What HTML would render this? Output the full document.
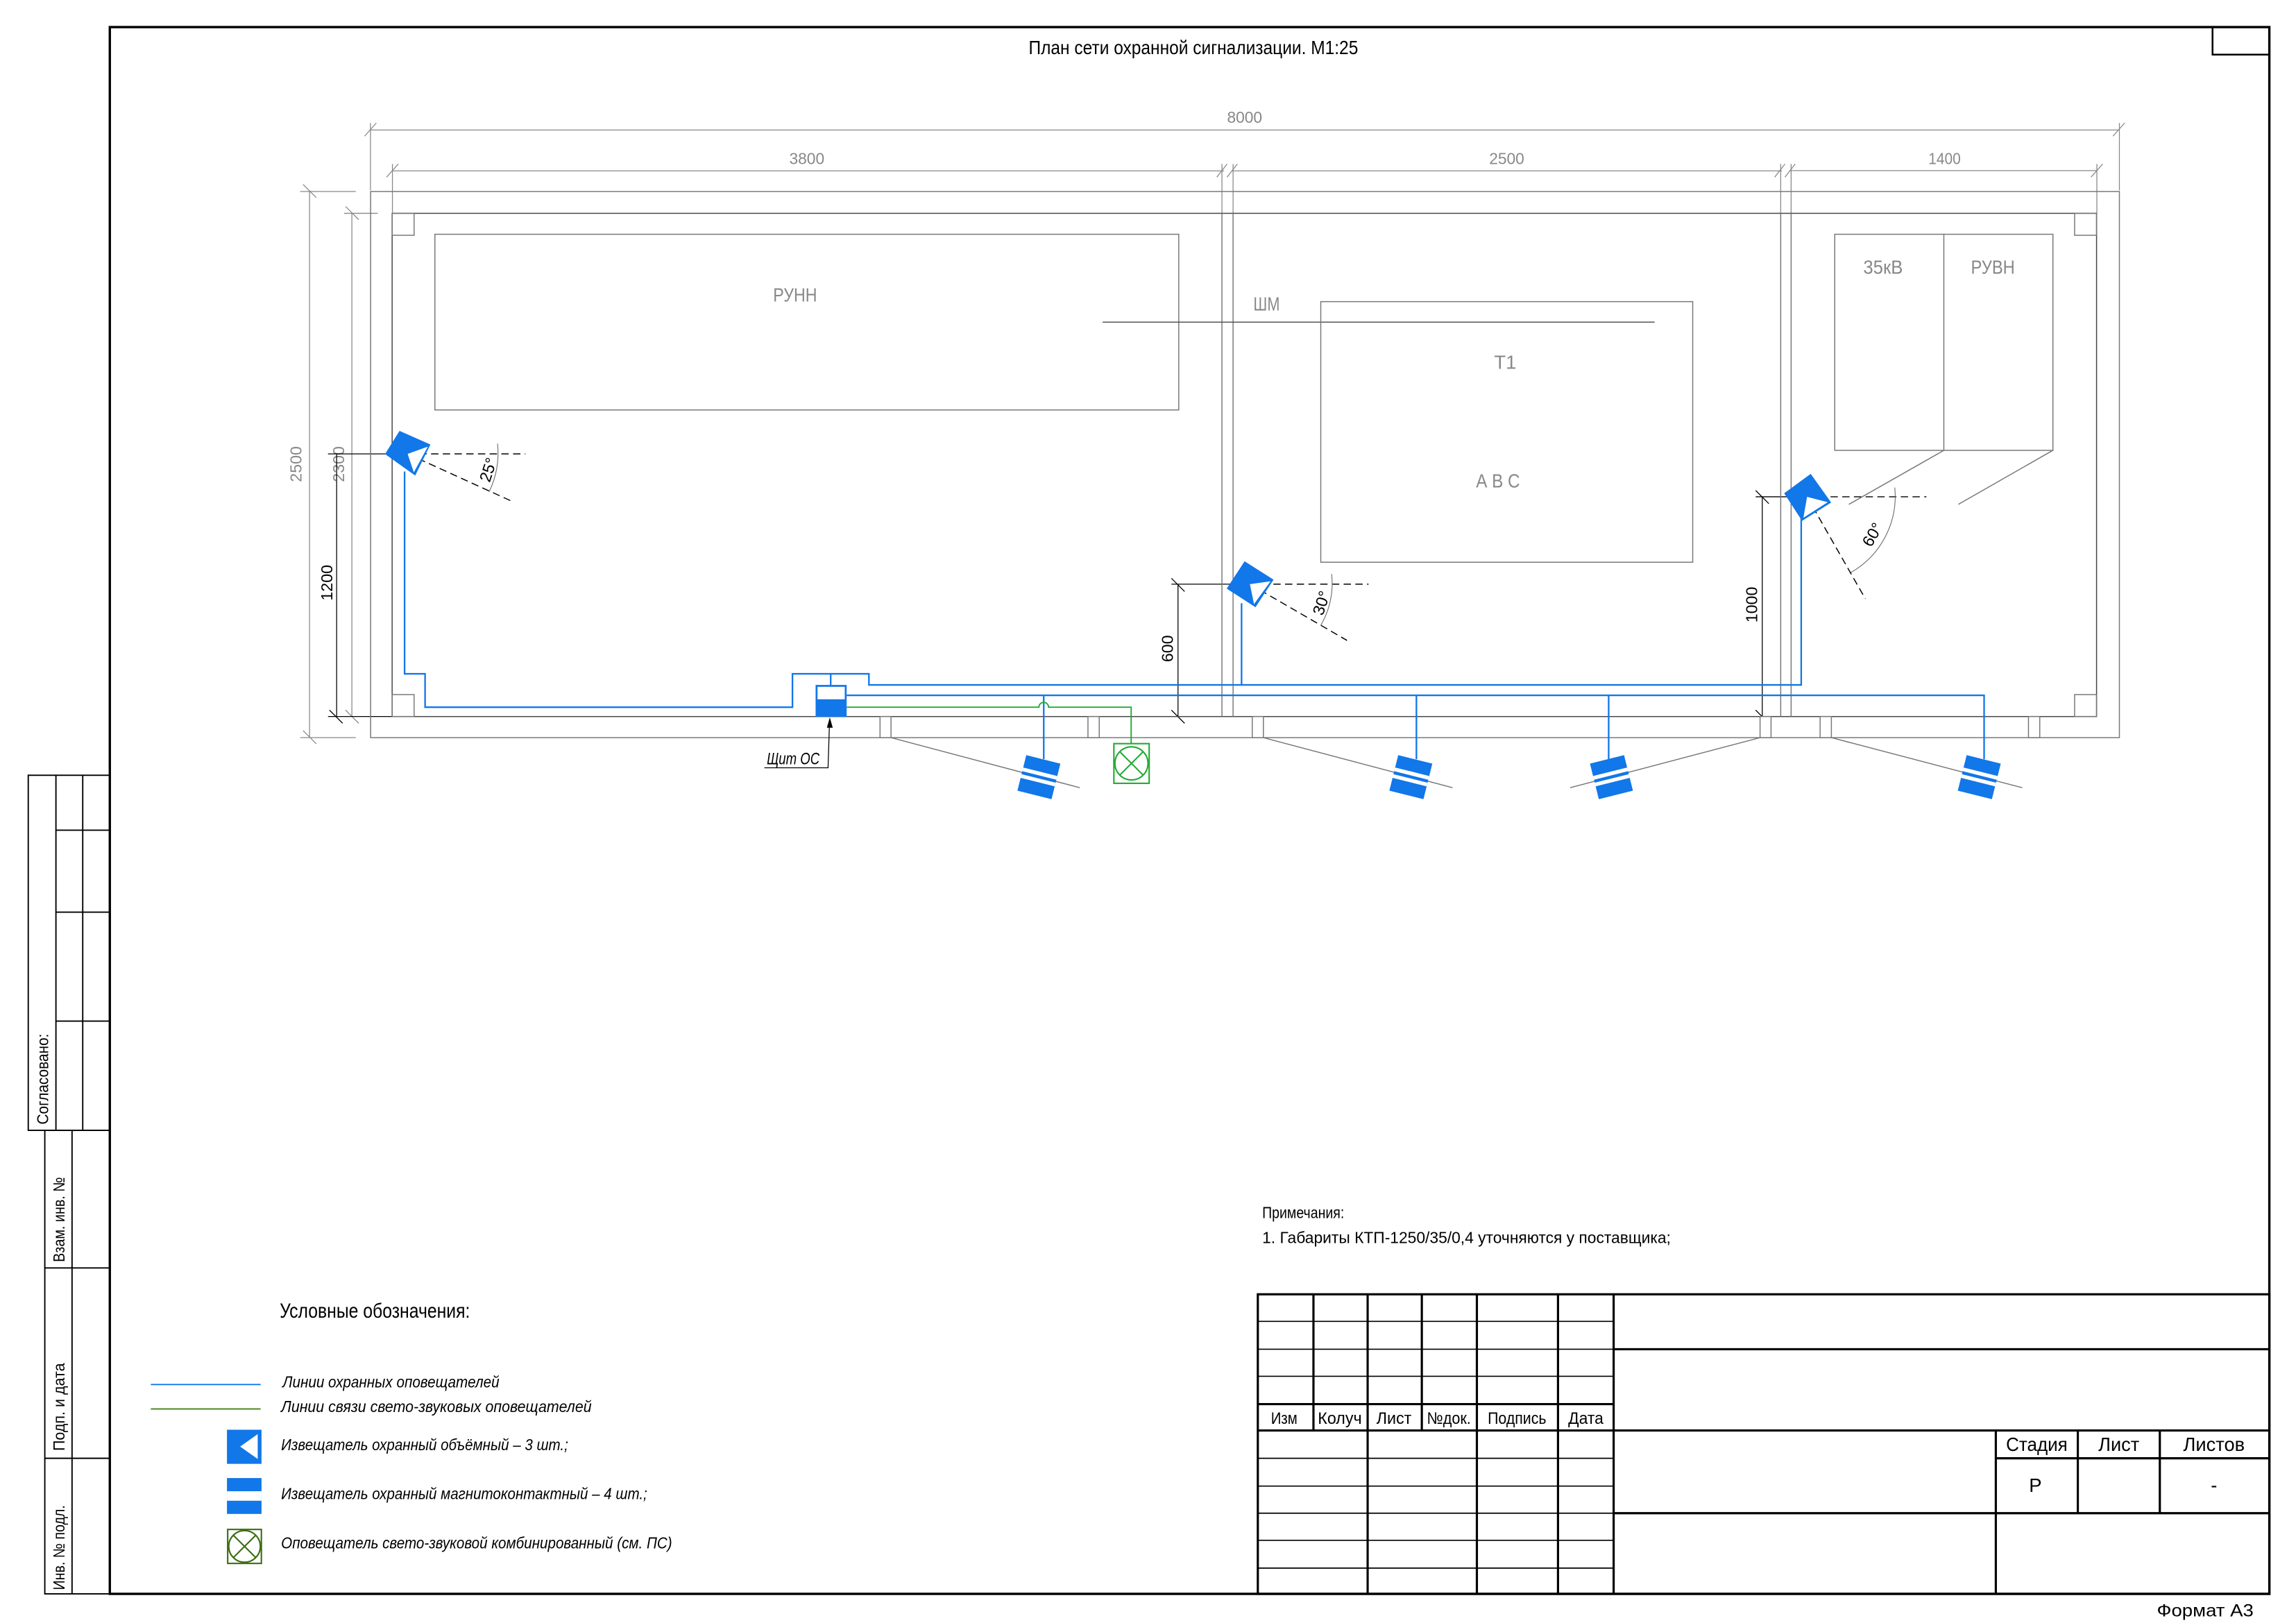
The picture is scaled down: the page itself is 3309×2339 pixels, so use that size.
<!DOCTYPE html>
<html><head><meta charset="utf-8"><style>
html,body{margin:0;padding:0;background:#fff}
svg{display:block}
text{font-family:"Liberation Sans Narrow","Liberation Sans",sans-serif}
.g{fill:#888}
.it{font-style:italic}
</style></head><body>
<svg width="3309" height="2339" viewBox="0 0 1568 1108.5" preserveAspectRatio="none" xmlns="http://www.w3.org/2000/svg">
<rect width="1568" height="1108.5" fill="#fff"/>
<rect x="75" y="18.5" width="1474.8" height="1070.1" fill="none" stroke="#000" stroke-width="1.6"/>
<rect x="1511" y="18.5" width="38.8" height="18.8" fill="none" stroke="#000" stroke-width="1.2"/>
<text x="815" y="37" font-size="13" text-anchor="middle" textLength="225" lengthAdjust="spacingAndGlyphs">План сети охранной сигнализации. М1:25</text>

<g fill="none" stroke="#000" stroke-width="0.9">
<rect x="19.3" y="529.5" width="55.7" height="242.5"/>
<line x1="38.2" y1="529.5" x2="38.2" y2="772"/>
<line x1="56.5" y1="529.5" x2="56.5" y2="772"/>
<line x1="38.2" y1="567" x2="75" y2="567"/>
<line x1="38.2" y1="623" x2="75" y2="623"/>
<line x1="38.2" y1="697.4" x2="75" y2="697.4"/>
<rect x="30.6" y="772" width="44.4" height="316.6"/>
<line x1="49.2" y1="772" x2="49.2" y2="1088.6"/>
<line x1="30.6" y1="866" x2="75" y2="866"/>
<line x1="30.6" y1="996" x2="75" y2="996"/>
</g>
<g font-size="11">
<text transform="translate(33,737) rotate(-90)" text-anchor="middle" textLength="62" lengthAdjust="spacingAndGlyphs">Согласовано:</text>
<text transform="translate(44,833) rotate(-90)" text-anchor="middle" textLength="58" lengthAdjust="spacingAndGlyphs">Взам. инв. №</text>
<text transform="translate(44,961) rotate(-90)" text-anchor="middle" textLength="60" lengthAdjust="spacingAndGlyphs">Подп. и дата</text>
<text transform="translate(44,1057) rotate(-90)" text-anchor="middle" textLength="58" lengthAdjust="spacingAndGlyphs">Инв. № подл.</text>
</g>

<g stroke="#888" stroke-width="0.6" fill="none">
<line x1="253" y1="88.8" x2="1447.4" y2="88.8"/>
<line x1="253" y1="84" x2="253" y2="130"/>
<line x1="1447.4" y1="84" x2="1447.4" y2="130"/>
<line x1="268" y1="116.7" x2="836" y2="116.7"/>
<line x1="841" y1="116.7" x2="1217" y2="116.7"/>
<line x1="1222" y1="116.5" x2="1432" y2="116.5"/>
<line x1="268" y1="112" x2="268" y2="146"/>
<line x1="834.5" y1="112" x2="834.5" y2="146"/>
<line x1="842.1" y1="112" x2="842.1" y2="146"/>
<line x1="1216.1" y1="112" x2="1216.1" y2="146"/>
<line x1="1223.2" y1="112" x2="1223.2" y2="146"/>
<line x1="1432" y1="112" x2="1432" y2="146"/>
<path d="M249 93l8-9M1443 93l8-9M264 121l8-9M831 121l7-9M838 121l7-9M1212 121l7-9M1219 121l7-9M1428 121l8-9"/>
<line x1="211.4" y1="130" x2="211.4" y2="503.8"/>
<line x1="240.3" y1="145.7" x2="240.3" y2="489.4"/>
<line x1="205" y1="130.8" x2="243" y2="130.8"/>
<line x1="205" y1="503.8" x2="243" y2="503.8"/>
<line x1="235" y1="145.7" x2="258" y2="145.7"/>
<path d="M207 126l9 9M207 499l9 9M236 141l9 9M236 485l9 9"/>
</g>
<g class="g" font-size="11" text-anchor="middle">
<text x="850" y="84" textLength="24" lengthAdjust="spacingAndGlyphs">8000</text>
<text x="551" y="112" textLength="24" lengthAdjust="spacingAndGlyphs">3800</text>
<text x="1029" y="112" textLength="24" lengthAdjust="spacingAndGlyphs">2500</text>
<text x="1328" y="112" textLength="22" lengthAdjust="spacingAndGlyphs">1400</text>
<text transform="translate(206,317) rotate(-90)">2500</text>
<text transform="translate(235,317) rotate(-90)">2300</text>
</g>
<g stroke="#000" stroke-width="0.6" fill="none">
<line x1="229.9" y1="310" x2="229.9" y2="489.4"/>
<line x1="224" y1="310" x2="278" y2="310"/>
<line x1="224" y1="489.4" x2="268" y2="489.4"/>
<path d="M225 485l9 9"/>
<line x1="804.5" y1="399" x2="804.5" y2="489.4"/>
<line x1="800" y1="399" x2="853" y2="399"/>
<path d="M800 395l9 9M800 485l9 9"/>
<line x1="1203.5" y1="339.3" x2="1203.5" y2="489.4"/>
<line x1="1199" y1="339.3" x2="1234" y2="339.3"/>
<path d="M1199 335l9 9M1199 485l9 9"/>
</g>
<g font-size="11" text-anchor="middle">
<text transform="translate(227,398) rotate(-90)">1200</text>
<text transform="translate(801,443) rotate(-90)">600</text>
<text transform="translate(1200,413) rotate(-90)">1000</text>
</g>

<g stroke="#777" stroke-width="0.7" fill="none">
<rect x="253.1" y="130.8" width="1194.3" height="373"/>
<rect x="267.8" y="145.7" width="1164" height="343.7" stroke="#444"/>
<line x1="834.5" y1="145.7" x2="834.5" y2="489.4"/>
<line x1="842.1" y1="145.7" x2="842.1" y2="489.4"/>
<line x1="1216.1" y1="145.7" x2="1216.1" y2="489.4"/>
<line x1="1223.2" y1="145.7" x2="1223.2" y2="489.4"/>
<rect x="267.8" y="145.7" width="15" height="15"/>
<rect x="267.8" y="474.4" width="15" height="15"/>
<rect x="1416.8" y="145.7" width="15" height="15"/>
<rect x="1416.8" y="474.4" width="15" height="15"/>
<rect x="297" y="160" width="508" height="120"/>
<line x1="753" y1="220" x2="1130" y2="220" stroke="#555"/>
<rect x="902" y="206" width="254" height="178"/>
<rect x="1253" y="160" width="149" height="147.6"/>
<line x1="1327.5" y1="160" x2="1327.5" y2="307.6"/>
<line x1="1327.5" y1="307.6" x2="1262.6" y2="344.5"/>
<line x1="1401.9" y1="307.6" x2="1337.4" y2="344.5"/>
<rect x="601" y="489.4" width="7.5" height="14.4" fill="#fff"/>
<rect x="743" y="489.4" width="7.7" height="14.4" fill="#fff"/>
<rect x="855.2" y="489.4" width="7.6" height="14.4" fill="#fff"/>
<rect x="1202" y="489.4" width="7.5" height="14.4" fill="#fff"/>
<rect x="1243" y="489.4" width="7.7" height="14.4" fill="#fff"/>
<rect x="1385.3" y="489.4" width="7.7" height="14.4" fill="#fff"/>
<line x1="608.5" y1="503.8" x2="737.4" y2="538"/>
<line x1="862.8" y1="503.8" x2="992" y2="538"/>
<line x1="1202" y1="503.8" x2="1072.3" y2="538"/>
<line x1="1250.7" y1="503.8" x2="1381" y2="538"/>
</g>
<g class="g" font-size="13" text-anchor="middle">
<text x="543" y="206" textLength="30" lengthAdjust="spacingAndGlyphs">РУНН</text>
<text x="865" y="212" textLength="18" lengthAdjust="spacingAndGlyphs">ШМ</text>
<text x="1028" y="252">Т1</text>
<text x="1023" y="333" textLength="30" lengthAdjust="spacingAndGlyphs">А В С</text>
<text x="1286" y="187" textLength="27" lengthAdjust="spacingAndGlyphs">35кВ</text>
<text x="1361" y="187" textLength="30" lengthAdjust="spacingAndGlyphs">РУВН</text>
</g>

<g stroke="#000" stroke-width="0.7" fill="none" stroke-dasharray="5,3">
<line x1="278.4" y1="310" x2="358.8" y2="310"/>
<line x1="278.4" y1="310" x2="351.2" y2="343.1"/>
<line x1="853.6" y1="399" x2="934.6" y2="399"/>
<line x1="853.6" y1="399" x2="919.9" y2="437.4"/>
<line x1="1234.1" y1="339.3" x2="1315.6" y2="339.3"/>
<line x1="1234.1" y1="339.3" x2="1273.9" y2="409"/>
</g>
<g stroke="#666" stroke-width="0.5" fill="none">
<path d="M339.8 303 A61.4 61.4 0 0 1 334 336"/>
<path d="M909.4 392 A56 56 0 0 1 902 427"/>
<path d="M1294 333 A60 60 0 0 1 1264 391"/>
</g>
<g font-size="11" text-anchor="middle">
<text transform="translate(337,322) rotate(-72)">25°</text>
<text transform="translate(906,413) rotate(-72)">30°</text>
<text transform="translate(1282,367) rotate(-60)">60°</text>
</g>

<g fill="none" stroke="#1277e8" stroke-width="1.1">
<polyline points="276.3,322 276.3,460.2 290.3,460.2 290.3,483 541.2,483 541.2,460.2 593.4,460.2 593.4,467.8 1230.1,467.8 1230.1,352"/>
<line x1="847.9" y1="412" x2="847.9" y2="467.8"/>
<line x1="567.3" y1="460.2" x2="567.3" y2="467.8"/>
<polyline points="578.2,474.9 1355,474.9 1355,518.5"/>
<line x1="712.8" y1="474.9" x2="712.8" y2="518.5"/>
<line x1="967.3" y1="474.9" x2="967.3" y2="518.5"/>
<line x1="1098.6" y1="474.9" x2="1098.6" y2="518.5"/>
</g>
<path d="M578.2 483 H709.5 A3.3 3.3 0 0 1 716.1 483 H772.5 V507.9" fill="none" stroke="#22aa33" stroke-width="0.9"/>
<rect x="557" y="467.8" width="21.2" height="21.8" fill="#1277e8"/>
<rect x="558.3" y="469.1" width="18.6" height="8.5" fill="#fff"/>
<g fill="none" stroke="#22aa33" stroke-width="1">
<rect x="760.7" y="507.9" width="24.1" height="27.1"/>
<circle cx="772.7" cy="521.4" r="11.3"/>
<path d="M764.7 513.4L780.7 529.4M780.7 513.4L764.7 529.4"/>
</g>
<text x="523.7" y="522" font-size="11.5" class="it" textLength="36" lengthAdjust="spacingAndGlyphs">Щит ОС</text>
<g stroke="#000" stroke-width="0.6" fill="none">
<polyline points="522,524.4 565.5,524.4 566.5,493"/>
</g>
<path d="M566.7 490l-2 7h4z" fill="#000"/>

<g fill="#1277e8" stroke="#1277e8" stroke-width="0.8">
<polygon points="273,294.8 293.4,303.8 283.4,324.2 263.5,310"/>
<polygon points="850.1,383.9 869.2,396 857.3,414.2 838.3,401.9"/>
<polygon points="1236.5,324.2 1250,343.1 1230.8,355.2 1219,337"/>
</g>
<g fill="#fff">
<polygon points="278.4,310 292.2,305 282.6,322.6"/>
<polygon points="853.6,399 867.7,397 856.4,412.6"/>
<polygon points="1234.1,339.3 1248.2,343 1231.6,353.6"/>
</g>
<g transform="translate(709.5,530.8) rotate(14)">
<rect x="-12" y="-12.5" width="24" height="25" fill="#1277e8"/>
<rect x="-12" y="-3.8" width="24" height="2.6" fill="#fff"/>
<rect x="-12" y="0.9" width="24" height="2.6" fill="#fff"/>
</g>
<g transform="translate(963.5,530.8) rotate(14)">
<rect x="-12" y="-12.5" width="24" height="25" fill="#1277e8"/>
<rect x="-12" y="-3.8" width="24" height="2.6" fill="#fff"/>
<rect x="-12" y="0.9" width="24" height="2.6" fill="#fff"/>
</g>
<g transform="translate(1100.5,530.8) rotate(-14)">
<rect x="-12" y="-12.5" width="24" height="25" fill="#1277e8"/>
<rect x="-12" y="-3.8" width="24" height="2.6" fill="#fff"/>
<rect x="-12" y="0.9" width="24" height="2.6" fill="#fff"/>
</g>
<g transform="translate(1351.7,530.8) rotate(14)">
<rect x="-12" y="-12.5" width="24" height="25" fill="#1277e8"/>
<rect x="-12" y="-3.8" width="24" height="2.6" fill="#fff"/>
<rect x="-12" y="0.9" width="24" height="2.6" fill="#fff"/>
</g>

<text x="862" y="832" font-size="11" textLength="56" lengthAdjust="spacingAndGlyphs">Примечания:</text>
<text x="862" y="849" font-size="11" textLength="279" lengthAdjust="spacingAndGlyphs">1. Габариты КТП-1250/35/0,4 уточняются у поставщика;</text>

<text x="191" y="900" font-size="14" textLength="130" lengthAdjust="spacingAndGlyphs">Условные обозначения:</text>
<line x1="103" y1="945.6" x2="178" y2="945.6" stroke="#1277e8" stroke-width="0.9"/>
<line x1="103" y1="962.3" x2="178" y2="962.3" stroke="#4a8a20" stroke-width="0.9"/>
<g font-size="11" class="it">
<text x="193" y="947.6" textLength="148" lengthAdjust="spacingAndGlyphs">Линии охранных оповещателей</text>
<text x="192" y="964.4" textLength="212" lengthAdjust="spacingAndGlyphs">Линии связи свето-звуковых оповещателей</text>
<text x="192" y="990.6" textLength="196" lengthAdjust="spacingAndGlyphs">Извещатель охранный объёмный – 3 шт.;</text>
<text x="192" y="1024" textLength="250" lengthAdjust="spacingAndGlyphs">Извещатель охранный магнитоконтактный – 4 шт.;</text>
<text x="192" y="1057.6" textLength="267" lengthAdjust="spacingAndGlyphs">Оповещатель свето-звуковой комбинированный (см. ПС)</text>
</g>
<rect x="155" y="976.5" width="23.6" height="23.3" fill="#1277e8"/>
<polygon points="164,988 176,979.5 176,996.5" fill="#fff"/>
<rect x="155" y="1009.5" width="23.6" height="24.5" fill="#1277e8"/>
<rect x="155" y="1018.5" width="23.6" height="6.5" fill="#fff"/>
<g fill="none" stroke="#3a6e10" stroke-width="1">
<rect x="155.5" y="1044.6" width="23" height="23.2"/>
<circle cx="167" cy="1056.2" r="10.8"/>
<path d="M159.4 1048.6L174.6 1063.8M174.6 1048.6L159.4 1063.8"/>
</g>

<g stroke="#000" fill="none">
<g stroke-width="1.5">
<rect x="859" y="884" width="690.8" height="204.6"/>
<line x1="1102" y1="884" x2="1102" y2="1088.6"/>
<line x1="1102" y1="921.5" x2="1549.8" y2="921.5"/>
<line x1="859" y1="959" x2="1102" y2="959"/>
<line x1="859" y1="977" x2="1549.8" y2="977"/>
<line x1="1363" y1="996" x2="1549.8" y2="996"/>
<line x1="1102" y1="1033.5" x2="1549.8" y2="1033.5"/>
<line x1="1363" y1="977" x2="1363" y2="1088.6"/>
<line x1="1419" y1="977" x2="1419" y2="1033.5"/>
<line x1="1475" y1="977" x2="1475" y2="1033.5"/>
<line x1="934" y1="884" x2="934" y2="1088.6"/>
<line x1="1008.6" y1="884" x2="1008.6" y2="1088.6"/>
<line x1="1064" y1="884" x2="1064" y2="1088.6"/>
<line x1="897" y1="884" x2="897" y2="977"/>
<line x1="971" y1="884" x2="971" y2="977"/>
</g>
<g stroke-width="0.8">
<line x1="859" y1="902.5" x2="1102" y2="902.5"/>
<line x1="859" y1="921.5" x2="1102" y2="921.5"/>
<line x1="859" y1="940" x2="1102" y2="940"/>
<line x1="859" y1="996" x2="1102" y2="996"/>
<line x1="859" y1="1015" x2="1102" y2="1015"/>
<line x1="859" y1="1033.5" x2="1102" y2="1033.5"/>
<line x1="859" y1="1052" x2="1102" y2="1052"/>
<line x1="859" y1="1071" x2="1102" y2="1071"/>
</g>
</g>
<g font-size="11.5" text-anchor="middle">
<text x="877" y="972.5" textLength="18" lengthAdjust="spacingAndGlyphs">Изм</text>
<text x="915" y="972.5" textLength="30" lengthAdjust="spacingAndGlyphs">Колуч</text>
<text x="952" y="972.5" textLength="24" lengthAdjust="spacingAndGlyphs">Лист</text>
<text x="989.5" y="972.5" textLength="30" lengthAdjust="spacingAndGlyphs">№док.</text>
<text x="1036" y="972.5" textLength="40" lengthAdjust="spacingAndGlyphs">Подпись</text>
<text x="1083" y="972.5" textLength="24" lengthAdjust="spacingAndGlyphs">Дата</text>
<text x="1391" y="991" font-size="13" textLength="42" lengthAdjust="spacingAndGlyphs">Стадия</text>
<text x="1447" y="991" font-size="13" textLength="28" lengthAdjust="spacingAndGlyphs">Лист</text>
<text x="1512" y="991" font-size="13" textLength="42" lengthAdjust="spacingAndGlyphs">Листов</text>
<text x="1390" y="1019" font-size="13">Р</text>
<text x="1512" y="1019" font-size="13">-</text>
</g>
<text x="1539" y="1104" font-size="12" text-anchor="end" textLength="66" lengthAdjust="spacingAndGlyphs">Формат А3</text>
</svg>
</body></html>
